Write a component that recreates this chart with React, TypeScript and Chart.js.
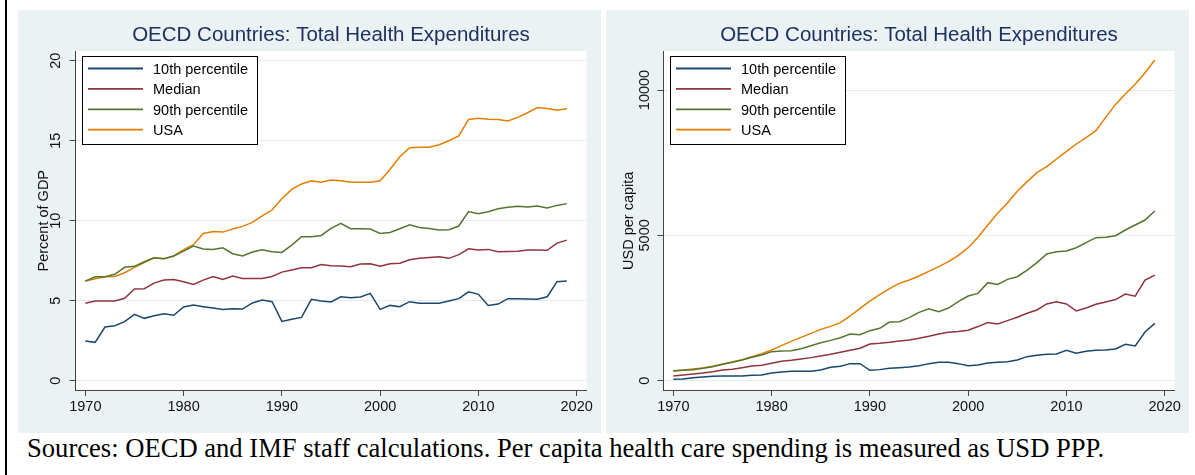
import React, { useEffect, useRef } from 'react';
import { Chart, registerables } from 'chart.js';

Chart.register(...registerables);

// ---------- data ----------
const years = [
  1970, 1971, 1972, 1973, 1974, 1975, 1976, 1977, 1978, 1979,
  1980, 1981, 1982, 1983, 1984, 1985, 1986, 1987, 1988, 1989,
  1990, 1991, 1992, 1993, 1994, 1995, 1996, 1997, 1998, 1999,
  2000, 2001, 2002, 2003, 2004, 2005, 2006, 2007, 2008, 2009,
  2010, 2011, 2012, 2013, 2014, 2015, 2016, 2017, 2018, 2019,
];

// Percent of GDP
const gdpP10 = [
  2.48, 2.4, 3.36, 3.44, 3.69, 4.15, 3.9, 4.06, 4.19, 4.09,
  4.61, 4.73, 4.63, 4.54, 4.46, 4.5, 4.48, 4.86, 5.04, 4.94,
  3.71, 3.84, 3.96, 5.09, 4.98, 4.92, 5.25, 5.19, 5.23, 5.46,
  4.46, 4.71, 4.63, 4.94, 4.84, 4.84, 4.84, 4.98, 5.13, 5.56,
  5.4, 4.71, 4.79, 5.13, 5.13, 5.11, 5.09, 5.25, 6.19, 6.23,
];
const gdpMedian = [
  4.84, 4.98, 4.98, 4.98, 5.15, 5.73, 5.75, 6.1, 6.29, 6.33,
  6.19, 6.02, 6.29, 6.52, 6.33, 6.54, 6.39, 6.39, 6.39, 6.52,
  6.79, 6.92, 7.06, 7.06, 7.27, 7.19, 7.17, 7.13, 7.29, 7.31,
  7.15, 7.31, 7.35, 7.56, 7.65, 7.71, 7.75, 7.65, 7.88, 8.25,
  8.17, 8.21, 8.06, 8.08, 8.1, 8.17, 8.17, 8.15, 8.6, 8.79,
];
const gdpP90 = [
  6.23, 6.5, 6.5, 6.65, 7.09, 7.15, 7.44, 7.69, 7.63, 7.8,
  8.1, 8.42, 8.23, 8.21, 8.31, 7.94, 7.8, 8.05, 8.19, 8.06,
  8.02, 8.48, 9.0, 9.0, 9.08, 9.52, 9.84, 9.5, 9.5, 9.48,
  9.21, 9.27, 9.5, 9.75, 9.58, 9.52, 9.42, 9.44, 9.67, 10.58,
  10.44, 10.56, 10.75, 10.84, 10.9, 10.86, 10.92, 10.8, 10.96, 11.07,
];
const gdpUSA = [
  6.23, 6.38, 6.5, 6.52, 6.75, 7.09, 7.38, 7.69, 7.63, 7.8,
  8.2, 8.5, 9.21, 9.33, 9.29, 9.48, 9.65, 9.9, 10.3, 10.67,
  11.38, 11.96, 12.3, 12.5, 12.4, 12.54, 12.5, 12.4, 12.4, 12.4,
  12.5, 13.2, 14.0, 14.56, 14.6, 14.6, 14.75, 15.0, 15.3, 16.33,
  16.4, 16.35, 16.33, 16.23, 16.46, 16.75, 17.08, 17.02, 16.9, 17.0,
];

// USD per capita
const pcP10 = [
  47, 59, 105, 128, 151, 163, 163, 163, 186, 197,
  266, 300, 323, 323, 323, 369, 461, 495, 587, 587,
  358, 381, 426, 449, 472, 518, 587, 633, 633, 587,
  518, 541, 610, 633, 656, 713, 828, 874, 908, 920,
  1046, 943, 1012, 1046, 1058, 1092, 1253, 1196, 1675, 1974,
];
const pcMedian = [
  163, 197, 232, 266, 312, 369, 392, 449, 507, 530,
  599, 668, 702, 748, 794, 851, 908, 977, 1046, 1115,
  1264, 1287, 1322, 1368, 1402, 1460, 1529, 1609, 1666, 1689,
  1735, 1862, 1999, 1953, 2067, 2182, 2320, 2434, 2641, 2718,
  2641, 2400, 2500, 2630, 2710, 2790, 2980, 2910, 3460, 3630,
];
const pcP90 = [
  334, 357, 380, 426, 483, 563, 632, 712, 804, 884,
  999, 1022, 1033, 1102, 1205, 1308, 1388, 1480, 1606, 1583,
  1721, 1801, 2019, 2030, 2168, 2351, 2477, 2374, 2500, 2718,
  2913, 3005, 3372, 3314, 3486, 3578, 3807, 4060, 4358, 4438,
  4461, 4576, 4748, 4920, 4932, 4989, 5184, 5356, 5528, 5838,
];
const pcUSA = [
  345, 368, 402, 437, 494, 563, 643, 723, 826, 929,
  1056, 1205, 1354, 1492, 1629, 1767, 1870, 1997, 2226, 2490,
  2741, 2959, 3166, 3349, 3464, 3601, 3761, 3922, 4094, 4312,
  4576, 4932, 5356, 5758, 6113, 6515, 6847, 7157, 7363, 7627,
  7890, 8143, 8361, 8600, 9060, 9506, 9860, 10195, 10595, 11032,
];

const seriesLabels = ['10th percentile', 'Median', '90th percentile', 'USA'];
const seriesColors = ['#1a476f', '#90353b', '#55752f', '#e37e00'];
const xTicks = [1970, 1980, 1990, 2000, 2010, 2020];
const gdpTicks = [0, 5, 10, 15, 20];
const pcTicks = [0, 5000, 10000];
const chartTitle = 'OECD Countries: Total Health Expenditures';
const gdpAxisTitle = 'Percent of GDP';
const pcAxisTitle = 'USD per capita';
const caption =
  'Sources: OECD and IMF staff calculations. Per capita health care spending is measured as USD PPP.';

// ---------- styling ----------
const FONT = '"Liberation Sans", Arial, Helvetica, sans-serif';
const PANEL_W = 583;
const PANEL_H = 423;
const AREA = { left: 57.5, top: 41, right: 568.5, bottom: 380.5 };
const AXIS_COLOR = '#444444';
const GRID_COLOR = '#e3ebed';
const TITLE_COLOR = '#1e3160';

const panelPlugin = {
  id: 'panelDeco',
  beforeDraw(chart: any) {
    const { ctx, chartArea: a } = chart;
    ctx.save();
    ctx.fillStyle = '#ffffff';
    ctx.fillRect(a.left, a.top, a.right - a.left, a.bottom - a.top);
    ctx.fillStyle = TITLE_COLOR;
    ctx.font = `20.5px ${FONT}`;
    ctx.textAlign = 'center';
    ctx.textBaseline = 'alphabetic';
    ctx.fillText(chartTitle, (a.left + a.right) / 2, 30.7);
    ctx.restore();
  },
  afterDatasetsDraw(chart: any) {
    const { ctx, chartArea: a } = chart;
    const bx = Math.round(a.left + 6);
    const by = Math.round(a.top + 5);
    const bw = 176;
    const bh = 89;
    ctx.save();
    ctx.fillStyle = '#ffffff';
    ctx.fillRect(bx, by, bw, bh);
    ctx.strokeStyle = '#000000';
    ctx.lineWidth = 1;
    ctx.strokeRect(bx + 0.5, by + 0.5, bw - 1, bh - 1);
    chart.data.datasets.forEach((ds: any, i: number) => {
      const ry = by + 12.5 + i * 20.4;
      ctx.strokeStyle = ds.borderColor;
      ctx.lineWidth = 1.8;
      ctx.beginPath();
      ctx.moveTo(bx + 6, ry);
      ctx.lineTo(bx + 61, ry);
      ctx.stroke();
      ctx.fillStyle = '#000000';
      ctx.font = `14.5px ${FONT}`;
      ctx.textAlign = 'left';
      ctx.textBaseline = 'alphabetic';
      ctx.fillText(ds.label, bx + 71, ry + 5.2);
    });
    ctx.restore();
  },
};

type PanelCfg = {
  series: number[][];
  yTicks: number[];
  yMin: number;
  yMax: number;
  xMin: number;
  xMax: number;
  yTitle: string;
  tickPad: number;
  titlePad: number;
};

function makeChart(canvas: HTMLCanvasElement, cfg: PanelCfg) {
  return new Chart(canvas, {
    type: 'line',
    data: {
      datasets: seriesLabels.map((label, i) => ({
        label,
        data: years.map((yr, k) => ({ x: yr, y: cfg.series[i][k] })),
        borderColor: seriesColors[i],
        backgroundColor: seriesColors[i],
        borderWidth: 1.5,
        pointRadius: 0,
        pointHoverRadius: 0,
        tension: 0,
        fill: false,
      })),
    },
    options: {
      responsive: false,
      animation: false,
      devicePixelRatio: 1,
      events: [],
      layout: {
        padding: { left: 0, top: AREA.top, right: PANEL_W - AREA.right, bottom: 0 },
      },
      plugins: {
        legend: { display: false },
        tooltip: { enabled: false },
        title: { display: false },
      },
      scales: {
        x: {
          type: 'linear',
          min: cfg.xMin,
          max: cfg.xMax,
          afterBuildTicks: (s: any) => {
            s.ticks = xTicks.map((v) => ({ value: v }));
          },
          afterFit: (s: any) => {
            s.height = PANEL_H - AREA.bottom;
          },
          grid: {
            drawOnChartArea: false,
            drawTicks: true,
            tickLength: 5.5,
            tickColor: AXIS_COLOR,
            color: AXIS_COLOR,
          },
          border: { display: true, color: AXIS_COLOR, width: 1 },
          ticks: {
            autoSkip: false,
            maxRotation: 0,
            minRotation: 0,
            padding: 2,
            color: '#111111',
            font: { family: FONT, size: 14.5 },
            callback: (v: any) => String(v),
          },
        },
        y: {
          type: 'linear',
          min: cfg.yMin,
          max: cfg.yMax,
          afterBuildTicks: (s: any) => {
            s.ticks = cfg.yTicks.map((v) => ({ value: v }));
          },
          afterFit: (s: any) => {
            s.width = AREA.left;
          },
          grid: {
            drawOnChartArea: true,
            drawTicks: true,
            tickLength: 6,
            color: GRID_COLOR,
            tickColor: AXIS_COLOR,
            lineWidth: 1,
          },
          border: { display: true, color: AXIS_COLOR, width: 1 },
          ticks: {
            minRotation: 90,
            maxRotation: 90,
            crossAlign: 'center',
            padding: cfg.tickPad,
            color: '#111111',
            font: { family: FONT, size: 14.5 },
            callback: (v: any) => String(v),
          },
          title: {
            display: true,
            text: cfg.yTitle,
            color: '#111111',
            font: { family: FONT, size: 14.5 },
            padding: { top: cfg.titlePad, bottom: 0 },
          },
        },
      },
    } as any,
    plugins: [panelPlugin],
  });
}

function Panel({ left, cfg }: { left: number; cfg: PanelCfg }) {
  const ref = useRef<HTMLCanvasElement | null>(null);
  useEffect(() => {
    if (!ref.current) return;
    const chart = makeChart(ref.current, cfg);
    return () => chart.destroy();
  }, []);
  return (
    <div
      style={{
        position: 'absolute',
        left,
        top: 10,
        width: PANEL_W,
        height: PANEL_H,
        background: '#eaf2f3',
      }}
    >
      <canvas ref={ref} width={PANEL_W} height={PANEL_H} style={{ display: 'block' }} />
    </div>
  );
}

const gdpCfg: PanelCfg = {
  series: [gdpP10, gdpMedian, gdpP90, gdpUSA],
  yTicks: gdpTicks,
  yMin: -0.61,
  yMax: 20.61,
  xMin: 1969.0,
  xMax: 2021.0,
  yTitle: gdpAxisTitle,
  tickPad: 5,
  titlePad: 17.3,
};

const pcCfg: PanelCfg = {
  series: [pcP10, pcMedian, pcP90, pcUSA],
  yTicks: pcTicks,
  yMin: -337,
  yMax: 11342,
  xMin: 1969.0,
  xMax: 2021.0,
  yTitle: pcAxisTitle,
  tickPad: -8,
  titlePad: 14.3,
};

export default function App() {
  return (
    <div
      style={{
        position: 'absolute',
        left: 0,
        top: 0,
        width: 1195,
        height: 475,
        background: '#ffffff',
        overflow: 'hidden',
      }}
    >
      <div style={{ position: 'absolute', left: 5, top: 0, width: 2, height: 475, background: '#000' }} />
      <Panel left={18} cfg={gdpCfg} />
      <Panel left={606} cfg={pcCfg} />
      <div
        style={{
          position: 'absolute',
          left: 27,
          top: 433,
          fontFamily: '"Liberation Serif", "Times New Roman", serif',
          fontSize: 26.6,
          lineHeight: 'normal',
          whiteSpace: 'nowrap',
          color: '#000',
        }}
      >
        {caption}
      </div>
    </div>
  );
}
